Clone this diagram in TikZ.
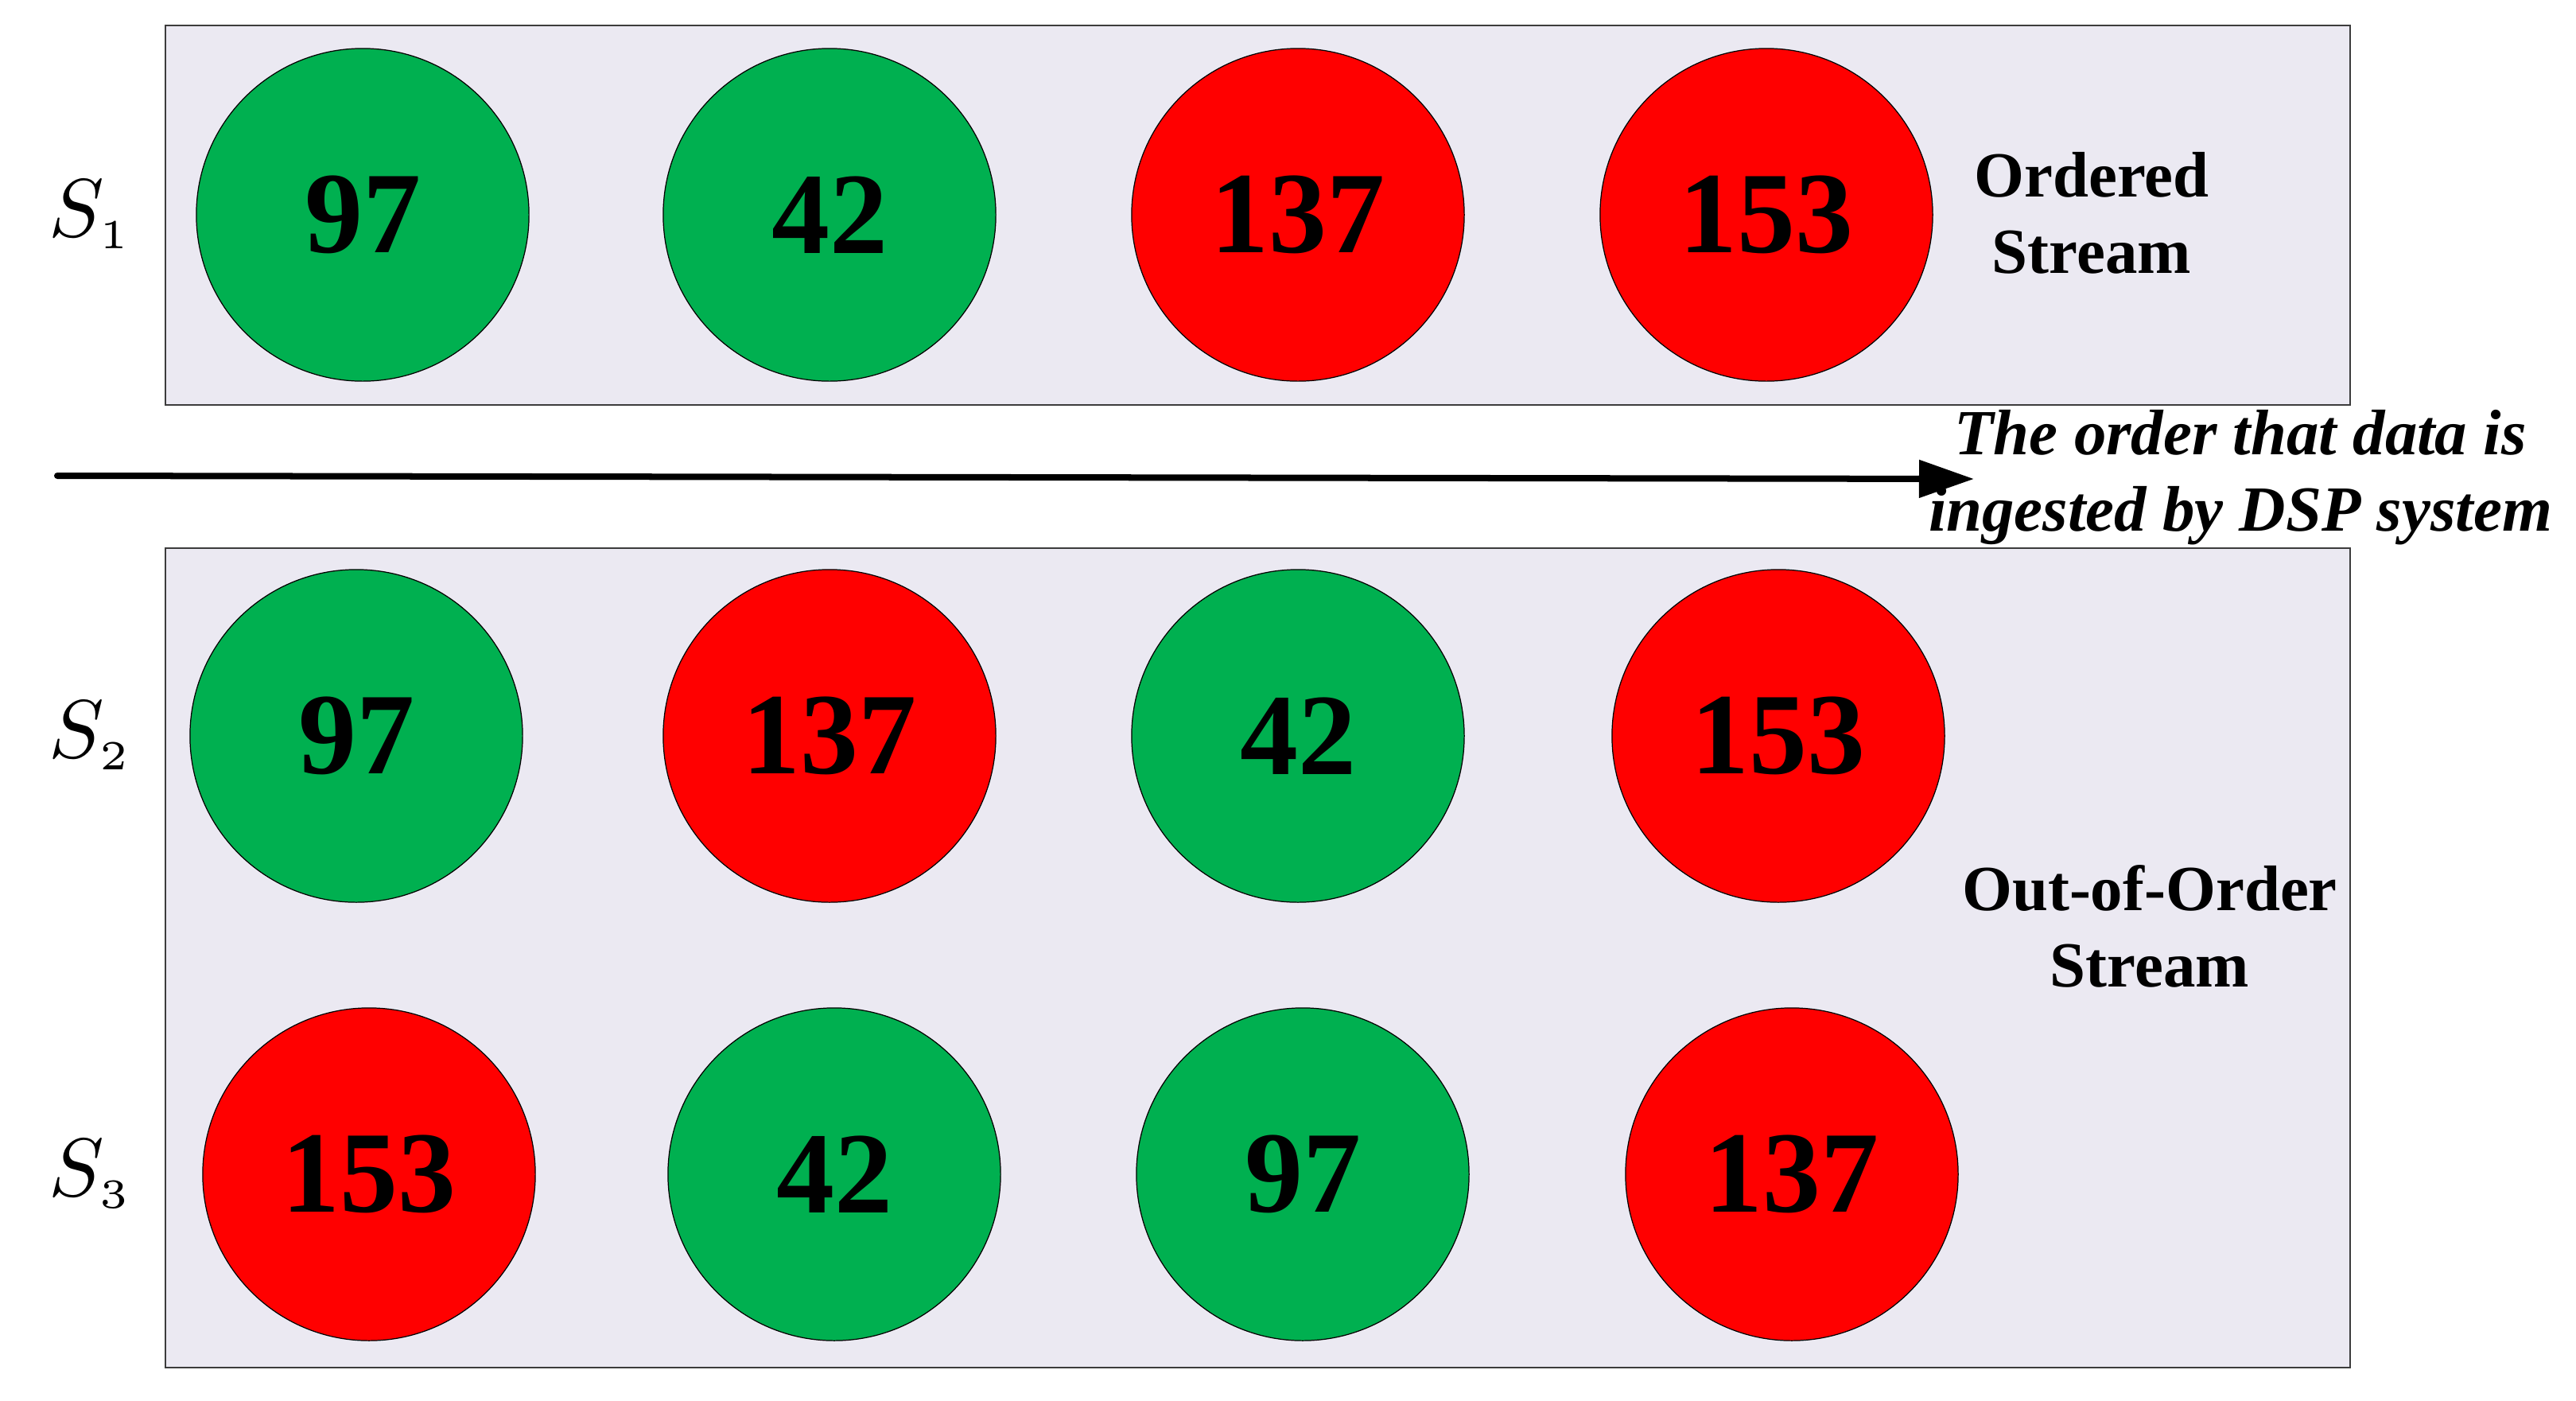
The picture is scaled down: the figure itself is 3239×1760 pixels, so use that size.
\documentclass[tikz,border=0pt]{standalone}
\usepackage{graphicx}
\usepackage[no-math]{fontspec}
\setmainfont{Liberation Serif}
\usetikzlibrary{arrows.meta}
\definecolor{boxfill}{RGB}{235,233,242}
\definecolor{boxline}{RGB}{60,60,60}
\definecolor{goodgreen}{RGB}{0,176,80}
\definecolor{badred}{RGB}{255,0,0}
\tikzset{
  streambox/.style={draw=boxline, line width=0.6pt, fill=boxfill},
  ball/.style={circle, draw=black, line width=0.35pt, minimum size=4.18cm, inner sep=0pt,
     font=\fontsize{41.5}{48}\selectfont\bfseries},
  gball/.style={ball, fill=goodgreen},
  rball/.style={ball, fill=badred},
  slabel/.style={anchor=base, inner sep=0pt, font=\fontsize{10}{12}\selectfont},
  tlabel/.style={align=center, inner sep=0pt, font=\fontsize{23}{27.3}\selectfont\bfseries},
  ilabel/.style={align=center, inner sep=0pt, font=\fontsize{23}{27.3}\selectfont\bfseries\itshape},
  flowarrow/.style={line width=0.08cm, line cap=round, -{Triangle[length=0.69cm,width=0.46cm]}}
}
\newcommand{\streamname}[1]{\scalebox{2.95}{$S_{\scriptscriptstyle #1}$}}
\begin{document}
\begin{tikzpicture}[x=0.01cm, y=-0.01cm]
\useasboundingbox (0,0) rectangle (3239,1760);
% boxes
\draw[streambox] (208,32) rectangle (2955,509);
\draw[streambox] (208,689) rectangle (2955,1719);
% S1 row
\node[gball] (a1) at (456,270) {97};
\node[gball] (a2) at (1043,270) {42};
\node[rball] (a3) at (1632,270) {137};
\node[rball] (a4) at (2221,270) {153};
% S2 row
\node[gball] (b1) at (448,925) {97};
\node[rball] (b2) at (1043,925) {137};
\node[gball] (b3) at (1632,925) {42};
\node[rball] (b4) at (2236,925) {153};
% S3 row
\node[rball] (c1) at (464,1476) {153};
\node[gball] (c2) at (1049,1476) {42};
\node[gball] (c3) at (1638,1476) {97};
\node[rball] (c4) at (2253,1476) {137};
% stream labels
\node[slabel] (s1) at (114,297) {\streamname{1}};
\node[slabel] (s2) at (114,952) {\streamname{2}};
\node[slabel] (s3) at (114,1503) {\streamname{3}};
\node[tlabel] (ord) at (2630,268) {Ordered\\Stream};
\node[tlabel] (ooo) at (2703,1164) {Out-of-Order\\Stream};
% arrow
\coordinate (astart) at (72,598);
\coordinate (aend) at (2482,602);
\draw[flowarrow] (astart) -- (aend);
\node[ilabel] (cap) at (2817,600) {The order that data is\\ingested by DSP system};
\end{tikzpicture}
\end{document}
